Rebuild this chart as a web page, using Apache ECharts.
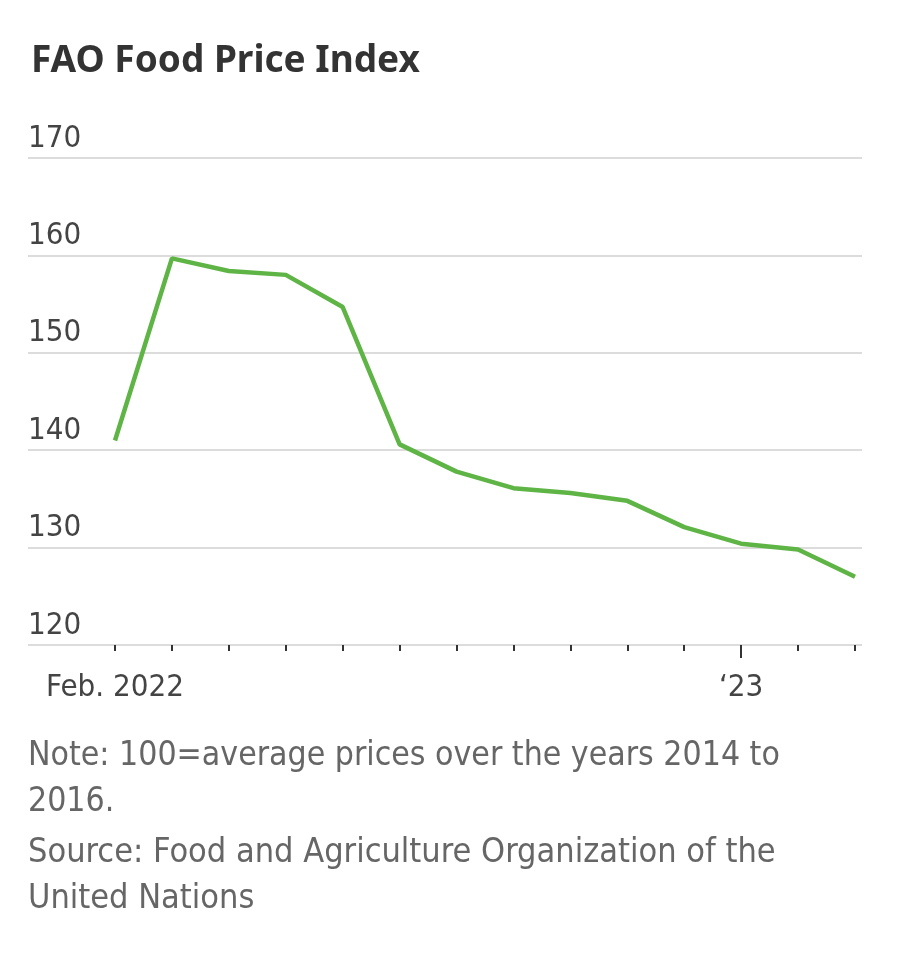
<!DOCTYPE html>
<html>
<head>
<meta charset="utf-8">
<script src="https://cdn.jsdelivr.net/npm/echarts@6/dist/echarts.min.js"></script>
<style>
  html, body { margin: 0; padding: 0; background: #fff; }
  #chart { width: 900px; height: 974px; }
</style>
</head>
<body>
<div id="chart"></div>
<script>
// monthly index values, Feb 2022 .. Mar 2023
const months = ['2022-02', '2022-03', '2022-04', '2022-05', '2022-06', '2022-07', '2022-08',
  '2022-09', '2022-10', '2022-11', '2022-12', '2023-01', '2023-02', '2023-03']
const tickLabels = { '2022-02': 'Feb. 2022', '2023-01': '\u201823' }
const priceIndex = [141.0, 159.7, 158.4, 158.0, 154.7, 140.6, 137.8, 136.1, 135.6, 134.8, 132.1, 130.4, 129.8, 127.0]
const yTicks = { min: 120, max: 170, step: 10 }

const narrow = '"Liberation Sans Narrow", "DejaVu Sans Condensed", Roboto, sans-serif'

const chart = echarts.init(document.getElementById('chart'))

chart.setOption({
  backgroundColor: '#fff',
  animation: false,
  title: {
    text: 'FAO Food Price Index',
    left: 26,
    top: 38,
    textStyle: { fontFamily: '"Noto Sans", sans-serif', fontWeight: 'bold', fontSize: 37, color: '#333' },
  },
  grid: [
    // wide grid: gridlines + y labels
    { left: 28, right: 38, top: 158, bottom: 329 },
    // data grid: months line up with ticks
    { left: 115, right: 45, top: 158, bottom: 329 },
  ],
  xAxis: [
    { gridIndex: 0, type: 'value', show: false, min: 0, max: 1 },
    {
      gridIndex: 1,
      type: 'category',
      position: 'bottom',
      data: months,
      boundaryGap: false,
      axisLine: { show: false },
      axisTick: { show: true, length: 6, inside: false, lineStyle: { color: '#333', width: 2 } },
      axisLabel: {
        interval: 0,
        margin: 27,
        formatter: (v) => tickLabels[v] || '',
        fontFamily: narrow,
        fontSize: 31,
        color: '#444',
      },
      splitLine: { show: false },
    },
    {
      gridIndex: 1,
      type: 'category',
      position: 'bottom',
      data: months,
      boundaryGap: false,
      axisLine: { show: false },
      axisTick: {
        show: true,
        length: 13,
        interval: (i, v) => v === '2023-01',
        lineStyle: { color: '#333', width: 2 },
      },
      axisLabel: { show: false },
      splitLine: { show: false },
    },
  ],
  yAxis: [
    {
      gridIndex: 0,
      type: 'value',
      min: yTicks.min,
      max: yTicks.max,
      interval: yTicks.step,
      axisLine: { show: false },
      axisTick: { show: false },
      axisLabel: {
        inside: true,
        margin: 0,
        verticalAlign: 'bottom',
        padding: [0, 0, 4, 0],
        fontFamily: narrow,
        fontSize: 31,
        color: '#444',
      },
      splitLine: { lineStyle: { color: '#dcdcdc', width: 2 } },
    },
    { gridIndex: 1, type: 'value', min: yTicks.min, max: yTicks.max, show: false },
  ],
  series: [
    {
      type: 'line',
      xAxisIndex: 1,
      yAxisIndex: 1,
      data: priceIndex,
      symbol: 'none',
      lineStyle: { color: '#5fb446', width: 4.5 },
      z: 5,
    },
  ],
  graphic: [
    {
      type: 'text',
      left: 28,
      top: 733,
      style: {
        text: 'Note: 100=average prices over the years 2014 to\n2016.',
        font: '33.5px ' + narrow,
        fill: '#666',
        lineHeight: 46,
      },
    },
    {
      type: 'text',
      left: 28,
      top: 830,
      style: {
        text: 'Source: Food and Agriculture Organization of the\nUnited Nations',
        font: '34px ' + narrow,
        fill: '#666',
        lineHeight: 46,
      },
    },
  ],
})
</script>
</body>
</html>
